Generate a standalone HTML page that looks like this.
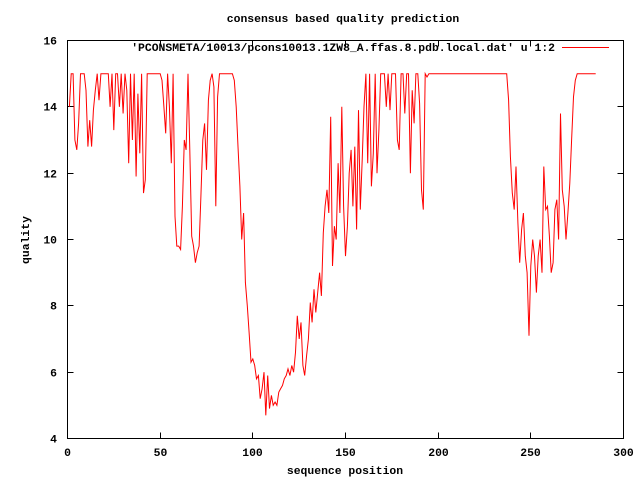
<!DOCTYPE html>
<html><head><meta charset="utf-8"><style>
body{margin:0;background:#fff}
svg text{font-family:"Liberation Mono",monospace;font-size:11.4px;font-weight:bold;fill:#000}
</style></head><body>
<svg id="c" width="640" height="480" xmlns="http://www.w3.org/2000/svg">
<rect x="0" y="0" width="640" height="480" fill="#fff"/>
<g id="ticks"></g>
<rect x="67.5" y="40.5" width="556" height="398" fill="none" stroke="#000"/>
<text x="343" y="22" text-anchor="middle">consensus based quality prediction</text>
<text x="345" y="474" text-anchor="middle">sequence position</text>
<text x="29" y="240" text-anchor="middle" transform="rotate(-90 29 240)">quality</text>
<text x="555" y="51" text-anchor="end">'PCONSMETA/10013/pcons10013.1ZW8_A.ffas.8.pdb.local.dat' u 1:2</text>
<line x1="562" y1="47.5" x2="609" y2="47.5" stroke="#f00"/>
<polyline id="series" fill="none" stroke="#f00" stroke-width="1"/>
</svg>
<script>
const xTicks=[0,50,100,150,200,250,300];
const yTicks=[4,6,8,10,12,14,16];
const quality=[14,15,15,13,12.7,13.5,15,15,15,14.5,
12.8,13.6,12.8,13.9,14.5,15,14.2,15,15,15,
15,15,14,15,13.3,15,15,14,15,13.8,
15,14.5,12.3,15,13,15,11.9,14.4,12.6,15,
11.4,11.8,15,15,15,15,15,15,15,15,
14.8,14,13.2,15,14,12.3,15,10.7,9.8,9.8,
9.7,11,13,12.7,15,12.7,10.1,9.8,9.3,9.6,
9.8,11.3,13,13.5,12.1,14.2,14.8,15,14.6,11,
14.3,15,15,15,15,15,15,15,15,14.8,
14,12.8,11.6,10,10.8,8.7,8,7.2,6.3,6.4,
6.2,5.8,5.9,5.2,5.5,6.0,4.7,5.9,4.9,5.3,
5.0,5.1,5.0,5.4,5.5,5.6,5.8,5.9,6.1,5.9,
6.2,6.0,6.6,7.7,7.0,7.5,6.2,5.9,6.5,7.0,
8.1,7.5,8.5,7.8,8.4,9.0,8.3,10.2,11.0,11.5,
10.8,13.7,9.2,10.4,10.0,12.3,10.8,14.0,11.0,9.5,
10.4,12.0,12.7,11.0,12.8,10.3,13.9,10.9,12.4,14.0,
15,12.3,15,11.6,12.6,15,12.0,13.3,15,15,
15,14,15,13.9,15,15,15,13,12.7,15,
15,13.8,15,15,12,14.5,13.5,15,15,14.1,
11.5,10.9,15,14.9,15,15,15,15,15,15,
15,15,15,15,15,15,15,15,15,15,
15,15,15,15,15,15,15,15,15,15,
15,15,15,15,15,15,15,15,15,15,
15,15,15,15,15,15,15,14.2,12.5,11.4,
10.9,12.2,10.5,9.3,10.3,10.8,9.5,9.0,7.1,9.2,
10.0,9.5,8.4,9.5,10,9.0,12.2,10.9,11,10.1,
9.0,9.3,10.9,11.2,10.0,13.8,11.5,11.0,10.0,10.8,
11.7,13.0,14.3,14.8,15,15,15,15,15,15,
15,15,15,15,15];
const X0=67.5,X1=623.5,Y0=438.5,Y1=40.5;
const sx=v=>X0+(v-0)/(300-0)*(X1-X0);
const sy=v=>Y0-(v-4)/(16-4)*(Y0-Y1);
const NS="http://www.w3.org/2000/svg";
const g=document.getElementById('ticks');
function mk(tag,attrs){const e=document.createElementNS(NS,tag);for(const k in attrs)e.setAttribute(k,attrs[k]);return e;}
xTicks.forEach(t=>{
  const x=Math.round(sx(t)-0.5)+0.5;
  const l1=mk('line',{x1:x,y1:Y0,x2:x,y2:Y0-6,stroke:'#000'});
  
  
  g.appendChild(l1);
  const l2=mk('line',{x1:x,y1:Y1,x2:x,y2:Y1+6,stroke:'#000'});
  
  
  g.appendChild(l2);
  const tx=mk('text',{x:x,y:456,'text-anchor':'middle'});
  tx.textContent=t;
  
  
  g.appendChild(tx);
});
yTicks.forEach(t=>{
  const y=Math.round(sy(t)-0.5)+0.5;
  const l1=mk('line',{x1:X0,y1:y,x2:X0+6,y2:y,stroke:'#000'});
  
  
  g.appendChild(l1);
  const l2=mk('line',{x1:X1,y1:y,x2:X1-6,y2:y,stroke:'#000'});
  
  
  g.appendChild(l2);
  const tx=mk('text',{x:57,y:y+4,'text-anchor':'end'});
  tx.textContent=t;
  
  
  g.appendChild(tx);
});
document.getElementById('series').setAttribute('points',quality.map((v,i)=>sx(i+1).toFixed(1)+','+sy(v).toFixed(1)).join(' '));
</script>
</body></html>
